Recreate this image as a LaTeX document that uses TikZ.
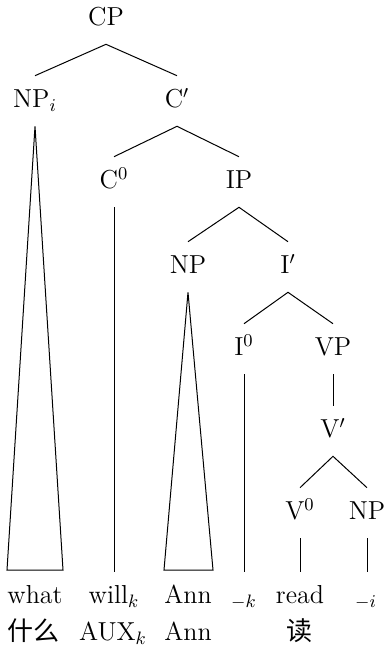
\documentclass[tikz,border=0pt]{standalone}
\usepackage{fontspec}
\newfontfamily\cjk{Noto Sans CJK SC}
\begin{document}
\begin{tikzpicture}[x=0.5pt,y=-0.5pt,
  lbl/.style={font=\fontsize{13}{15}\selectfont, text height=9.5pt, text depth=3pt, inner xsep=1pt, inner ysep=6.2pt},
  word/.style={lbl},
  edge/.style={draw, line width=0.5pt}]
\useasboundingbox (0,0) rectangle (384,649);
% labels
\node[lbl] (cp)   at (106,19)  {CP};
\node[lbl] (npi)  at (35,101)  {NP$_i$};
\node[lbl] (cbar) at (177,101) {C$'$};
\node[lbl] (c0)   at (114,182) {C$^0$};
\node[lbl] (ip)   at (239,182) {IP};
\node[lbl] (np2)  at (188,267) {NP};
\node[lbl] (ibar) at (288,267) {I$'$};
\node[lbl] (i0)   at (244,349) {I$^0$};
\node[lbl] (vp)   at (333,349) {VP};
\node[lbl] (vbar) at (333,431) {V$'$};
\node[lbl] (v0)   at (300,513) {V$^0$};
\node[lbl] (np3)  at (367,513) {NP};
% words
\node[word] (what) at (35,597)  {what};
\node[word] (will) at (114,597) {will$_k$};
\node[word] (ann)  at (188,597) {Ann};
\node[word] (tk)   at (244,597) {$_{-k}$};
\node[word] (read) at (300,597) {read};
\node[word] (ti)   at (366,597) {$_{-i}$};
\node[word] (shenme) at (34,634) {\cjk 什么};
\node[word] (aux)  at (113,634) {AUX$_k$};
\node[word] (ann2) at (188,634) {Ann};
\node[word] (du)   at (299,634) {\cjk 读};
% triangle corners
\coordinate (t1l) at (7,570);
\coordinate (t1r) at (63,570);
\coordinate (t2l) at (164,570);
\coordinate (t2r) at (213,570);
% branches
\draw[edge] (npi.north) -- (cp.south) -- (cbar.north);
\draw[edge] (c0.north) -- (cbar.south) -- (ip.north);
\draw[edge] (np2.north) -- (ip.south) -- (ibar.north);
\draw[edge] (i0.north) -- (ibar.south) -- (vp.north);
\draw[edge] (vp.south) -- (vbar.north);
\draw[edge] (v0.north) -- (vbar.south) -- (np3.north);
\draw[edge] (c0.south) -- (c0.south |- will.north);
\draw[edge] (i0.south) -- (i0.south |- tk.north);
\draw[edge] (v0.south) -- (v0.south |- read.north);
\draw[edge] (np3.south) -- (np3.south |- ti.north);
\draw[edge] (npi.south) -- (t1l) -- (t1r) -- cycle;
\draw[edge] (np2.south) -- (t2l) -- (t2r) -- cycle;
\end{tikzpicture}
\end{document}
